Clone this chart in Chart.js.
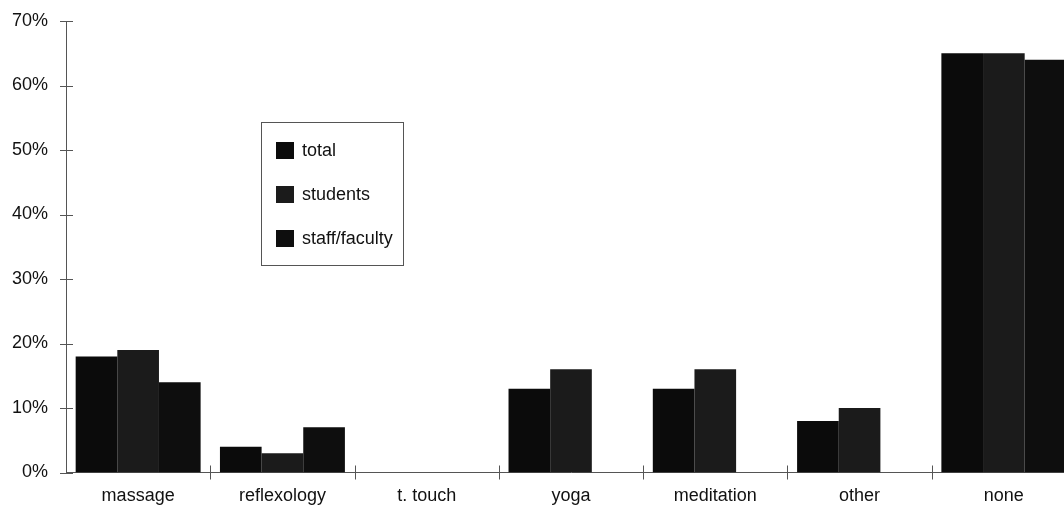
<!DOCTYPE html>
<html>
<head>
<meta charset="utf-8">
<script src="https://cdn.jsdelivr.net/npm/chart.js@4/dist/chart.umd.min.js"></script>
<style>
  html, body { margin: 0; padding: 0; background: #fff; overflow: hidden; }
  #wrap { position: relative; width: 1064px; height: 505px; overflow: hidden; }
  #TherapyChart { position: absolute; left: 0; top: 0; }
  #legendBox {
    position: absolute; left: 261px; top: 122px; width: 143px; height: 144px;
    border: 1px solid #555; box-sizing: border-box;
    font-family: "Liberation Sans", Arial, sans-serif; font-size: 18px; color: #111;
  }
  #legendBox .item { position: absolute; left: 14px; height: 18px; line-height: 18px; white-space: nowrap; }
  #legendBox .swatch { display: inline-block; width: 18px; height: 17px; vertical-align: middle; margin-right: 8px; }
  #legendBox .item span { vertical-align: middle; }
</style>
</head>
<body>
<div id="wrap">
  <canvas id="TherapyChart" width="1076" height="505"></canvas>
  <div id="legendBox"></div>
</div>
<script>
const categories = ['massage', 'reflexology', 't. touch', 'yoga', 'meditation', 'other', 'none'];
const totalPct = [18, 4, 0, 13, 13, 8, 65];
const studentPct = [19, 3, 0, 16, 16, 10, 65];
const staffPct = [14, 7, 0, 0, 0, 0, 64];
const yTicks = [0, 10, 20, 30, 40, 50, 60, 70];

const seriesNames = ['total', 'students', 'staff/faculty'];
const seriesColors = ['#0b0b0b', '#1b1b1b', '#0e0e0e'];
const seriesValues = [totalPct, studentPct, staffPct];

const fontFamily = '"Liberation Sans", Arial, sans-serif';

// short tick marks that cross both axes, like the old spreadsheet style
const crossTicks = {
  id: 'crossTicks',
  afterDraw(chart) {
    const { ctx, scales: { x, y } } = chart;
    ctx.save();
    ctx.strokeStyle = '#555';
    ctx.lineWidth = 1;
    ctx.beginPath();
    yTicks.forEach(v => {
      const py = Math.round(y.getPixelForValue(v)) + 0.5;
      ctx.moveTo(x.left - 6, py);
      ctx.lineTo(x.left + 7, py);
    });
    const half = (x.getPixelForValue(1) - x.getPixelForValue(0)) / 2;
    for (let i = 1; i <= categories.length; i++) {
      const px = Math.round(x.getPixelForValue(i) - half) + 0.5;
      ctx.moveTo(px, y.bottom - 7);
      ctx.lineTo(px, y.bottom + 7);
    }
    ctx.stroke();
    ctx.restore();
  }
};

const ctx = document.getElementById('TherapyChart');
const therapyChart = new Chart(ctx, {
  type: 'bar',
  data: {
    labels: categories,
    datasets: seriesNames.map((name, i) => ({
      label: name,
      data: seriesValues[i],
      backgroundColor: seriesColors[i],
      borderWidth: 0,
      categoryPercentage: 0.866,
      barPercentage: 1.0
    }))
  },
  options: {
    responsive: false,
    animation: false,
    layout: { padding: { top: 21, right: 0, bottom: 0, left: 0 } },
    plugins: { legend: { display: false }, tooltip: { enabled: false } },
    scales: {
      x: {
        grid: { display: false, drawTicks: false },
        border: { display: true, color: '#555', width: 1 },
        ticks: {
          color: '#111', padding: 13, maxRotation: 0,
          font: { family: fontFamily, size: 18 }
        },
        afterFit(scale) { scale.height = 32.5; }
      },
      y: {
        min: 0, max: 70,
        grid: { display: false, drawTicks: false },
        border: { display: true, color: '#555', width: 1 },
        ticks: {
          stepSize: 10, color: '#111', padding: 18,
          font: { family: fontFamily, size: 18 },
          callback: v => v + '%'
        },
        afterFit(scale) {
          scale.width = 66;
          scale.paddingTop = 0;
          scale.paddingBottom = 0;
        }
      }
    }
  },
  plugins: [crossTicks]
});

// legend box built from the same series names and colours
const legendBox = document.getElementById('legendBox');
seriesNames.forEach((name, i) => {
  const item = document.createElement('div');
  item.className = 'item';
  item.style.top = (17 + i * 44) + 'px';
  item.innerHTML = '<i class="swatch" style="background:' + seriesColors[i] + '"></i><span>' + name + '</span>';
  legendBox.appendChild(item);
});
</script>
</body>
</html>
